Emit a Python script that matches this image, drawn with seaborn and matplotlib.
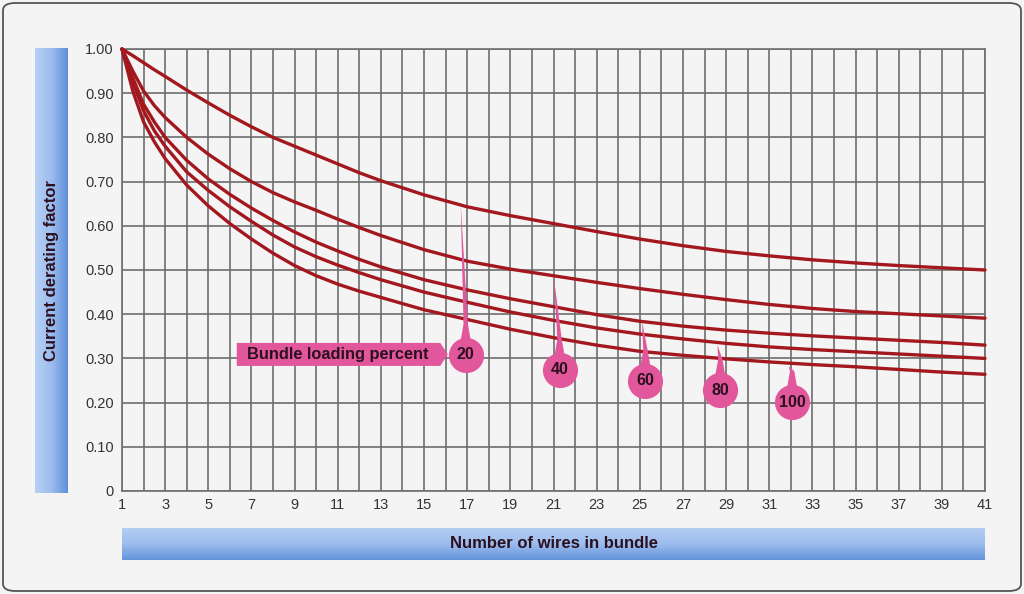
import matplotlib
matplotlib.use("Agg")
import matplotlib.pyplot as plt
from matplotlib.colors import LinearSegmentedColormap
from matplotlib.patches import FancyBboxPatch, Polygon
import numpy as np
import pandas as pd
import seaborn as sns

# Number of wires in bundle (x positions)
wires = [1, 1.5, 2, 2.5, 3, 4, 5, 6, 7, 8, 9, 10, 11, 12, 13, 15, 17, 19,
         21, 23, 25, 27, 29, 31, 33, 35, 37, 39, 41]

# Current derating factor, one list per bundle loading percent
load_20 = [1.0, 0.985, 0.969, 0.953, 0.938, 0.907, 0.878, 0.850, 0.824, 0.800,
           0.780, 0.760, 0.740, 0.720, 0.702, 0.670, 0.643, 0.623, 0.605, 0.587,
           0.570, 0.555, 0.542, 0.532, 0.523, 0.516, 0.510, 0.505, 0.500]
load_40 = [1.0, 0.950, 0.905, 0.872, 0.845, 0.800, 0.762, 0.729, 0.700, 0.675,
           0.654, 0.635, 0.615, 0.596, 0.578, 0.546, 0.520, 0.502, 0.487, 0.472,
           0.458, 0.445, 0.433, 0.422, 0.413, 0.406, 0.401, 0.396, 0.391]
load_60 = [1.0, 0.935, 0.875, 0.835, 0.800, 0.748, 0.706, 0.671, 0.640, 0.612,
           0.586, 0.563, 0.543, 0.524, 0.507, 0.478, 0.455, 0.435, 0.417, 0.399,
           0.384, 0.373, 0.364, 0.357, 0.351, 0.346, 0.341, 0.336, 0.330]
load_80 = [1.0, 0.925, 0.860, 0.815, 0.780, 0.722, 0.680, 0.643, 0.610, 0.579,
           0.552, 0.530, 0.511, 0.494, 0.478, 0.450, 0.427, 0.405, 0.386, 0.369,
           0.355, 0.344, 0.334, 0.326, 0.320, 0.315, 0.310, 0.305, 0.300]
load_100 = [1.0, 0.905, 0.835, 0.790, 0.752, 0.692, 0.645, 0.605, 0.570, 0.538,
            0.510, 0.487, 0.468, 0.452, 0.438, 0.410, 0.388, 0.366, 0.347, 0.330,
            0.316, 0.307, 0.299, 0.292, 0.286, 0.281, 0.275, 0.269, 0.264]

load_labels = ["20", "40", "60", "80", "100"]

# callout bubbles: bubble centre and where the pointer touches its curve
bubble_x = [16.93, 21.28, 25.26, 28.73, 32.06]
bubble_y = [0.308, 0.274, 0.249, 0.228, 0.201]
tip_x = [16.7, 21.0, 25.1, 28.6, 31.9]
tip_y = [0.650, 0.490, 0.385, 0.330, 0.282]

x_ticks = list(range(1, 42, 2))
y_ticks = [0, 0.1, 0.2, 0.3, 0.4, 0.5, 0.6, 0.7, 0.8, 0.9, 1.0]

BG = "#f4f4f4"
GRID = "#6e6e6e"
CURVE = "#a3181f"
PINK = "#e2579c"
INK = "#2b1020"

sns.set_theme(style="whitegrid", rc={
    "figure.facecolor": BG,
    "axes.facecolor": BG,
    "grid.color": GRID,
    "grid.linewidth": 1.2,
    "axes.edgecolor": GRID,
})
plt.rcParams["font.family"] = ["Liberation Sans", "DejaVu Sans"]

df = pd.DataFrame({
    "wires": wires * 5,
    "factor": load_20 + load_40 + load_60 + load_80 + load_100,
    "load": sum([[lab] * len(wires) for lab in load_labels], []),
})

fig = plt.figure(figsize=(10.24, 5.94), dpi=100)
ax = fig.add_axes([122 / 1024, 1 - 491 / 594, 863 / 1024, 442 / 594])

sns.lineplot(data=df, x="wires", y="factor", units="load", estimator=None,
             color=CURVE, linewidth=2.4, ax=ax, clip_on=False, zorder=3)

ax.set_xlim(1, 41)
ax.set_ylim(0, 1.0)
ax.set_xticks(range(1, 42))
ax.set_xticklabels([str(v) if v in x_ticks else "" for v in range(1, 42)])
ax.set_yticks(y_ticks)
ax.set_yticklabels(["0"] + [f"{v:.2f}" for v in y_ticks[1:]])
ax.tick_params(axis="both", length=0, labelsize=10.5, labelcolor="#333333")
ax.tick_params(axis="x", pad=5)
ax.tick_params(axis="y", pad=6)
ax.grid(True, color=GRID, linewidth=1.2)
ax.set_xlabel("")
ax.set_ylabel("")
for sp in ax.spines.values():
    sp.set_color(GRID)
    sp.set_linewidth(1.2)

# "Bundle loading percent" arrow box
box = Polygon([(6.32, 0.335), (15.75, 0.335), (16.1, 0.309), (15.75, 0.283),
               (6.32, 0.283)], closed=True, facecolor=PINK, edgecolor="none",
              zorder=5)
ax.add_patch(box)
ax.text(11.0, 0.308, "Bundle loading percent", ha="center", va="center",
        fontsize=11.8, fontweight="bold", color=INK, zorder=6)

# bubbles with tapered pointers
for lab, bx, by, tx, ty in zip(load_labels, bubble_x, bubble_y, tip_x, tip_y):
    spike = Polygon([(tx, ty), (bx + 0.1, by + 0.07), (bx + 0.35, by),
                     (bx - 0.35, by), (bx - 0.1, by + 0.07)],
                    closed=True, facecolor=PINK, edgecolor="none", zorder=5)
    ax.add_patch(spike)
    ax.scatter([bx], [by], s=640, color=PINK, zorder=6, linewidths=0)
    ax.text(bx, by, lab, ha="center", va="center", fontsize=11.5,
            fontweight="bold", color=INK, zorder=7)

# blue gradient label bars
blue = LinearSegmentedColormap.from_list("bar", ["#b7d0f4", "#9dbdee", "#5d8fd9"])
grad = np.linspace(0, 1, 256)

ax_y = fig.add_axes([35 / 1024, 1 - 493 / 594, 33 / 1024, 445 / 594])
ax_y.imshow(grad[np.newaxis, :], aspect="auto", cmap=blue, extent=[0, 1, 0, 1])
ax_y.set_axis_off()
ax_y.text(0.5, 0.5, "Current derating factor", rotation=90, ha="center",
          va="center", fontsize=12, fontweight="bold", color=INK,
          transform=ax_y.transAxes)

ax_x = fig.add_axes([122 / 1024, 1 - 560 / 594, 863 / 1024, 32 / 594])
ax_x.imshow(grad[:, np.newaxis] * 0.9 + 0.05, aspect="auto", cmap=blue,
            extent=[0, 1, 0, 1], vmin=0, vmax=1)
ax_x.set_axis_off()
ax_x.text(0.5, 0.5, "Number of wires in bundle", ha="center", va="center",
          fontsize=12, fontweight="bold", color=INK, transform=ax_x.transAxes)

# rounded outer frame
frame = FancyBboxPatch((3 / 1024, 3 / 594), 1018 / 1024, 588 / 594,
                       boxstyle="round,pad=0,rounding_size=0.012",
                       transform=fig.transFigure, facecolor="none",
                       edgecolor="#555555", linewidth=1.3)
fig.patches.append(frame)

fig.savefig("out.png", dpi=100, facecolor=BG)
